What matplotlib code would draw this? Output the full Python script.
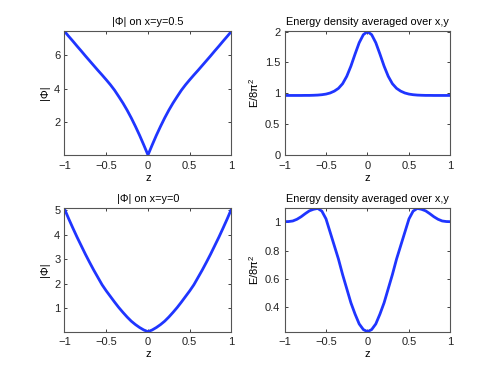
import matplotlib

matplotlib.use("Agg")

import matplotlib.pyplot as plt
import numpy as np

plt.rcParams['font.family'] = ['Liberation Sans', 'DejaVu Sans']
plt.rcParams['mathtext.fontset'] = 'custom'
plt.rcParams['mathtext.rm'] = 'Liberation Sans'
plt.rcParams['mathtext.it'] = 'Liberation Sans:italic'

# z grid shared by all four panels
z = np.round(np.arange(-1.0, 1.0001, 0.05), 2)

# |Phi| on x=y=0.5
phi_half = [7.45, 7.15, 6.86, 6.56, 6.27, 5.97, 5.68, 5.39, 5.10, 4.82,
            4.53, 4.23, 3.90, 3.52, 3.13, 2.70, 2.23, 1.72, 1.18, 0.60,
            0.00,
            0.60, 1.18, 1.72, 2.23, 2.70, 3.13, 3.52, 3.90, 4.23, 4.53,
            4.82, 5.10, 5.39, 5.68, 5.97, 6.27, 6.56, 6.86, 7.15, 7.45]

# energy density averaged over x,y (top)
energy_half = [0.965, 0.965, 0.965, 0.965, 0.965, 0.966, 0.966, 0.968, 0.971, 0.977,
               0.987, 1.005, 1.035, 1.080, 1.155, 1.275, 1.440, 1.635, 1.820, 1.950,
               2.000,
               1.950, 1.820, 1.635, 1.440, 1.275, 1.155, 1.080, 1.035, 1.005, 0.987,
               0.977, 0.971, 0.968, 0.966, 0.966, 0.965, 0.965, 0.965, 0.965, 0.965]

# |Phi| on x=y=0
phi_zero = [5.05, 4.65, 4.27, 3.90, 3.55, 3.20, 2.87, 2.55, 2.25, 1.95,
            1.70, 1.47, 1.24, 1.02, 0.82, 0.63, 0.46, 0.32, 0.20, 0.10,
            0.03,
            0.10, 0.20, 0.32, 0.46, 0.63, 0.82, 1.02, 1.24, 1.47, 1.70,
            1.95, 2.25, 2.55, 2.87, 3.20, 3.55, 3.90, 4.27, 4.65, 5.05]

# energy density averaged over x,y (bottom)
energy_zero = [1.005, 1.006, 1.010, 1.022, 1.040, 1.062, 1.082, 1.093, 1.099, 1.080,
               1.025, 0.930, 0.835, 0.740, 0.630, 0.530, 0.430, 0.350, 0.280, 0.240,
               0.225,
               0.240, 0.280, 0.350, 0.430, 0.530, 0.630, 0.740, 0.835, 0.930, 1.025,
               1.080, 1.099, 1.093, 1.082, 1.062, 1.040, 1.022, 1.010, 1.006, 1.005]

x_ticks = [-1, -0.5, 0, 0.5, 1]
x_ticklabels = ['\u22121', '\u22120.5', '0', '0.5', '1']

panels = [
    # (rect, y, title, ylabel, yticks, yticklabels)
    ([0.1295, 0.5867, 0.3353, 0.3307], phi_half, '|\u03a6| on x=y=0.5', '|\u03a6|',
     [2, 4, 6], ['2', '4', '6']),
    ([0.5713, 0.5867, 0.3333, 0.3307], energy_half, 'Energy density averaged over x,y',
     'E/8\u03c0$^2$', [0, 0.5, 1, 1.5, 2], ['0', '0.5', '1', '1.5', '2']),
    ([0.1295, 0.1155, 0.3353, 0.3287], phi_zero, '|\u03a6| on x=y=0', '|\u03a6|',
     [1, 2, 3, 4, 5], ['1', '2', '3', '4', '5']),
    ([0.5713, 0.1155, 0.3333, 0.3287], energy_zero, 'Energy density averaged over x,y',
     'E/8\u03c0$^2$', [0.4, 0.6, 0.8, 1], ['0.4', '0.6', '0.8', '1']),
]

ylims = [(0, 7.47), (0, 2.01), (0.03, 5.07), (0.225, 1.099)]

fig = plt.figure(figsize=(4.98, 3.75), dpi=100)
for (rect, y, title, ylabel, yt, ytl), yl in zip(panels, ylims):
    ax = fig.add_axes(rect)
    ax.plot(z, y, color='#1f35ff', lw=2.0, solid_capstyle='round')
    ax.set_xlim(-1, 1)
    ax.set_ylim(*yl)
    ax.set_xticks(x_ticks)
    ax.set_xticklabels(x_ticklabels)
    ax.set_yticks(yt)
    ax.set_yticklabels(ytl)
    ax.set_title(title, fontsize=7.8, pad=4.5)
    ax.set_xlabel('z', fontsize=8, labelpad=1.5)
    ax.set_ylabel(ylabel, fontsize=8, labelpad=3)
    ax.tick_params(direction='in', length=2.5, width=0.6, labelsize=8,
                   top=True, right=True, pad=3, colors='#222222')
    ax.tick_params(axis='x', pad=4)
    for s in ax.spines.values():
        s.set_color('#555555')
        s.set_linewidth(0.8)

fig.savefig('out.png', dpi=100)
